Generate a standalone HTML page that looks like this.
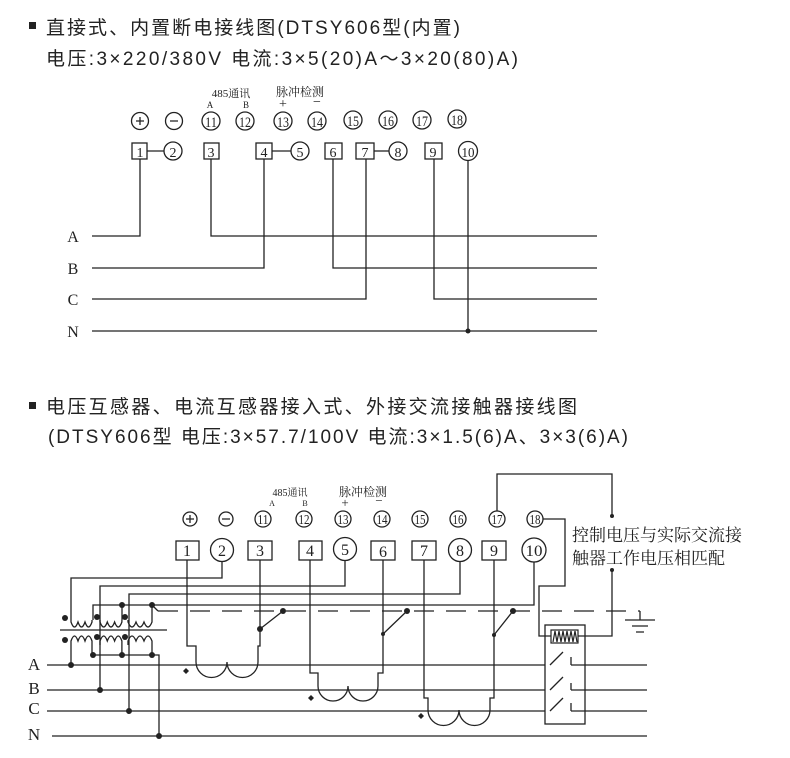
<!DOCTYPE html>
<html><head><meta charset="utf-8"><style>
html,body{margin:0;padding:0;background:#fff}
svg{display:block}
.h{font-family:"Liberation Sans","Noto Sans CJK SC",sans-serif;font-size:19px;fill:#222}
.s{font-family:"Liberation Serif","Noto Serif CJK SC",serif;fill:#222}
</style></head><body>
<svg width="790" height="758" viewBox="0 0 790 758" xmlns="http://www.w3.org/2000/svg">
<g class="h">
<rect x="29" y="22" width="7" height="7" fill="#222"/>
<text x="46" y="34" textLength="414" lengthAdjust="spacing">直接式、内置断电接线图(DTSY606型(内置)</text>
<text x="46" y="65" textLength="472" lengthAdjust="spacing">电压:3×220/380V 电流:3×5(20)A～3×20(80)A)</text>
<rect x="29" y="402" width="7" height="7" fill="#222"/>
<text x="46" y="413" textLength="531" lengthAdjust="spacing">电压互感器、电流互感器接入式、外接交流接触器接线图</text>
<text x="48" y="443" textLength="580" lengthAdjust="spacing">(DTSY606型 电压:3×57.7/100V 电流:3×1.5(6)A、3×3(6)A)</text>
</g>

<!-- TOP DIAGRAM -->
<g fill="none" stroke="#222" stroke-width="1.3">
<circle cx="140" cy="121" r="8.5"/><circle cx="174" cy="121" r="8.5"/>
<circle cx="211" cy="121" r="9"/><circle cx="245" cy="121" r="9"/><circle cx="283" cy="121" r="9"/><circle cx="317" cy="121" r="9"/>
<circle cx="353" cy="120" r="9"/><circle cx="388" cy="120" r="9"/><circle cx="422" cy="120" r="9"/><circle cx="457" cy="119" r="9"/>
<path d="M136 121h8M140 117v8M170 121h8"/>
<rect x="132" y="143" width="15" height="16"/><circle cx="173" cy="151" r="9"/><path d="M147 151h17"/>
<rect x="204" y="143" width="15" height="16"/>
<rect x="256" y="143" width="16" height="16"/><circle cx="300" cy="151" r="9"/><path d="M272 151h19"/>
<rect x="325" y="143" width="17" height="16"/>
<rect x="356" y="143" width="18" height="16"/><circle cx="398" cy="151" r="9"/><path d="M374 151h15"/>
<rect x="425" y="143" width="17" height="16"/>
<circle cx="468" cy="151" r="9.5"/>
<path d="M92 236H140V159M211 159V236H597M92 268H264V159M333 159V268H597M92 299H366V159M434 159V299H597M92 331H597M468 160V331"/>
</g>
<circle cx="468" cy="331" r="2.5" fill="#222"/>
<g class="s" text-anchor="middle">
<text x="211" y="127" font-size="15" textLength="12" lengthAdjust="spacingAndGlyphs">11</text>
<text x="245" y="127" font-size="15" textLength="12" lengthAdjust="spacingAndGlyphs">12</text>
<text x="283" y="127" font-size="15" textLength="12" lengthAdjust="spacingAndGlyphs">13</text>
<text x="317" y="127" font-size="15" textLength="12" lengthAdjust="spacingAndGlyphs">14</text>
<text x="353" y="126" font-size="15" textLength="12" lengthAdjust="spacingAndGlyphs">15</text>
<text x="388" y="126" font-size="15" textLength="12" lengthAdjust="spacingAndGlyphs">16</text>
<text x="422" y="126" font-size="15" textLength="12" lengthAdjust="spacingAndGlyphs">17</text>
<text x="457" y="125" font-size="15" textLength="12" lengthAdjust="spacingAndGlyphs">18</text>
<text x="140" y="157" font-size="14">1</text><text x="173" y="157" font-size="14">2</text><text x="211" y="157" font-size="14">3</text><text x="264" y="157" font-size="14">4</text><text x="300" y="157" font-size="14">5</text>
<text x="333" y="157" font-size="14">6</text><text x="365" y="157" font-size="14">7</text><text x="398" y="157" font-size="14">8</text><text x="433" y="157" font-size="14">9</text>
<text x="468" y="157" font-size="14" textLength="13" lengthAdjust="spacingAndGlyphs">10</text>
<text x="231" y="97" font-size="11">485通讯</text><text x="210" y="108" font-size="9">A</text><text x="246" y="108" font-size="9">B</text>
<text x="300" y="96" font-size="12">脉冲检测</text><text x="283" y="108" font-size="14">+</text><text x="317" y="106" font-size="14">−</text>
<text x="73" y="242" font-size="16">A</text><text x="73" y="274" font-size="16">B</text><text x="73" y="305" font-size="16">C</text><text x="73" y="337" font-size="16">N</text>
</g>

<!-- BOTTOM DIAGRAM -->
<g fill="none" stroke="#222" stroke-width="1.3">
<circle cx="190" cy="519" r="7"/><circle cx="226" cy="519" r="7"/>
<path d="M186 519h8M190 515v8M222 519h8"/>
<circle cx="263" cy="519" r="8"/><circle cx="304" cy="519" r="8"/><circle cx="343" cy="519" r="8"/><circle cx="382" cy="519" r="8"/>
<circle cx="420" cy="519" r="8"/><circle cx="458" cy="519" r="8"/><circle cx="497" cy="519" r="8"/><circle cx="535" cy="519" r="8"/>
<rect x="176" y="541" width="23" height="19"/><circle cx="222" cy="550" r="11.5"/><rect x="248" y="541" width="24" height="19"/>
<rect x="299" y="541" width="23" height="19"/><circle cx="345" cy="549" r="11.5"/><rect x="371" y="541" width="24" height="19"/>
<rect x="412" y="541" width="24" height="19"/><circle cx="460" cy="550" r="11.5"/><rect x="482" y="541" width="24" height="19"/>
<circle cx="534" cy="550" r="12"/>
<path d="M47 665H545M571 665H647M47 690H545M571 690H647M47 711H545M571 711H647M52 736H647"/>
<path d="M222 562V578H71V620M345 561V586H100V690M460 562V594H129V711M534 562V605H93V620M122 605V620M152 605L158 611"/>
<path d="M158 611H640" stroke-dasharray="20 12"/>
<path d="M640 611V620M625 620H655M632 626H648M636 632H644"/>
<path d="M71 620V622 q3.5 10 7 0 q3.5 10 7 0 q3.5 10 7 0 V620"/>
<path d="M100 620V622 q3.7 10 7.3 0 q3.7 10 7.3 0 q3.7 10 7.3 0 V620"/>
<path d="M128 620V622 q4 10 8 0 q4 10 8 0 q4 10 8 0 V605"/>
<path d="M60 630H167"/>
<path d="M71 645V641 q3.5 -10 7 0 q3.5 -10 7 0 q3.5 -10 7 0 V655"/>
<path d="M100 645V641 q3.7 -10 7.3 0 q3.7 -10 7.3 0 q3.7 -10 7.3 0 V655"/>
<path d="M128 645V641 q4 -10 8 0 q4 -10 8 0 q4 -10 8 0 V655"/>
<path d="M71 645V665 M93 655H159V736"/>
<path d="M187 560V646H196V662 a15 15 0 0 0 31 0 a15 15 0 0 0 31 0 V646H260V560 M260 629L283 611"/>
<path d="M310 560V673H318V686 a15 15 0 0 0 30 0 a15 15 0 0 0 30 0 V673H383V560 M383 634L407 611"/>
<path d="M424 560V698H428V710 a15 15 0 0 0 31 0 a15 15 0 0 0 31 0 V698H494V560 M494 635L513 611"/>
<rect x="545" y="625" width="40" height="99"/>
<path d="M543 519H565V586H539V636H551M578 636H612V570M497 511V474H612V516"/>
<path d="M550 665L563 652M571 657V665M550 690L563 677M571 683V690M550 711L563 698M571 703V711"/>
</g>
<rect x="551" y="630" width="27" height="13" fill="#fff" stroke="#222" stroke-width="1.2"/>
<path d="M553 642L555 631L557 642L559 631L561 642L563 631L565 642L567 631L569 642L571 631L573 642L575 631L577 642" fill="none" stroke="#222" stroke-width="1.2"/>
<g fill="#222">
<circle cx="65" cy="618" r="3"/><circle cx="97" cy="617" r="3"/><circle cx="125" cy="617" r="3"/>
<circle cx="65" cy="640" r="3"/><circle cx="97" cy="637" r="3"/><circle cx="125" cy="637" r="3"/>
<circle cx="122" cy="605" r="3"/><circle cx="152" cy="605" r="3"/>
<circle cx="93" cy="655" r="3"/><circle cx="122" cy="655" r="3"/><circle cx="152" cy="655" r="3"/>
<circle cx="71" cy="665" r="3"/><circle cx="100" cy="690" r="3"/><circle cx="129" cy="711" r="3"/><circle cx="159" cy="736" r="3"/>
<circle cx="283" cy="611" r="3"/><circle cx="260" cy="629" r="3"/><circle cx="407" cy="611" r="3"/><circle cx="383" cy="634" r="2"/>
<circle cx="513" cy="611" r="3"/><circle cx="494" cy="635" r="2"/>
<circle cx="612" cy="516" r="2"/><circle cx="612" cy="570" r="2"/>
<path d="M186 668l3 3-3 3-3-3z"/><path d="M311 695l3 3-3 3-3-3z"/><path d="M421 713l3 3-3 3-3-3z"/>
</g>
<g class="s" text-anchor="middle">
<text x="263" y="524" font-size="14" textLength="11" lengthAdjust="spacingAndGlyphs">11</text>
<text x="304" y="524" font-size="14" textLength="11" lengthAdjust="spacingAndGlyphs">12</text>
<text x="343" y="524" font-size="14" textLength="11" lengthAdjust="spacingAndGlyphs">13</text>
<text x="382" y="524" font-size="14" textLength="11" lengthAdjust="spacingAndGlyphs">14</text>
<text x="420" y="524" font-size="14" textLength="11" lengthAdjust="spacingAndGlyphs">15</text>
<text x="458" y="524" font-size="14" textLength="11" lengthAdjust="spacingAndGlyphs">16</text>
<text x="497" y="524" font-size="14" textLength="11" lengthAdjust="spacingAndGlyphs">17</text>
<text x="535" y="524" font-size="14" textLength="11" lengthAdjust="spacingAndGlyphs">18</text>
<text x="187" y="556" font-size="16">1</text><text x="222" y="556" font-size="16">2</text><text x="260" y="556" font-size="16">3</text><text x="310" y="556" font-size="16">4</text><text x="345" y="555" font-size="16">5</text>
<text x="383" y="557" font-size="16">6</text><text x="424" y="556" font-size="16">7</text><text x="460" y="556" font-size="16">8</text><text x="494" y="556" font-size="16">9</text>
<text x="534" y="556" font-size="16" textLength="17" lengthAdjust="spacingAndGlyphs">10</text>
<text x="290" y="496" font-size="10">485通讯</text><text x="272" y="506" font-size="8">A</text><text x="305" y="506" font-size="8">B</text>
<text x="363" y="496" font-size="12">脉冲检测</text><text x="345" y="507" font-size="13">+</text><text x="379" y="505" font-size="13">−</text>
<text x="34" y="670" font-size="17">A</text><text x="34" y="694" font-size="17">B</text><text x="34" y="714" font-size="17">C</text><text x="34" y="740" font-size="17">N</text>
</g>
<g class="s" font-size="17">
<text x="572" y="541">控制电压与实际交流接</text>
<text x="572" y="564">触器工作电压相匹配</text>
</g>
</svg>
</body></html>
